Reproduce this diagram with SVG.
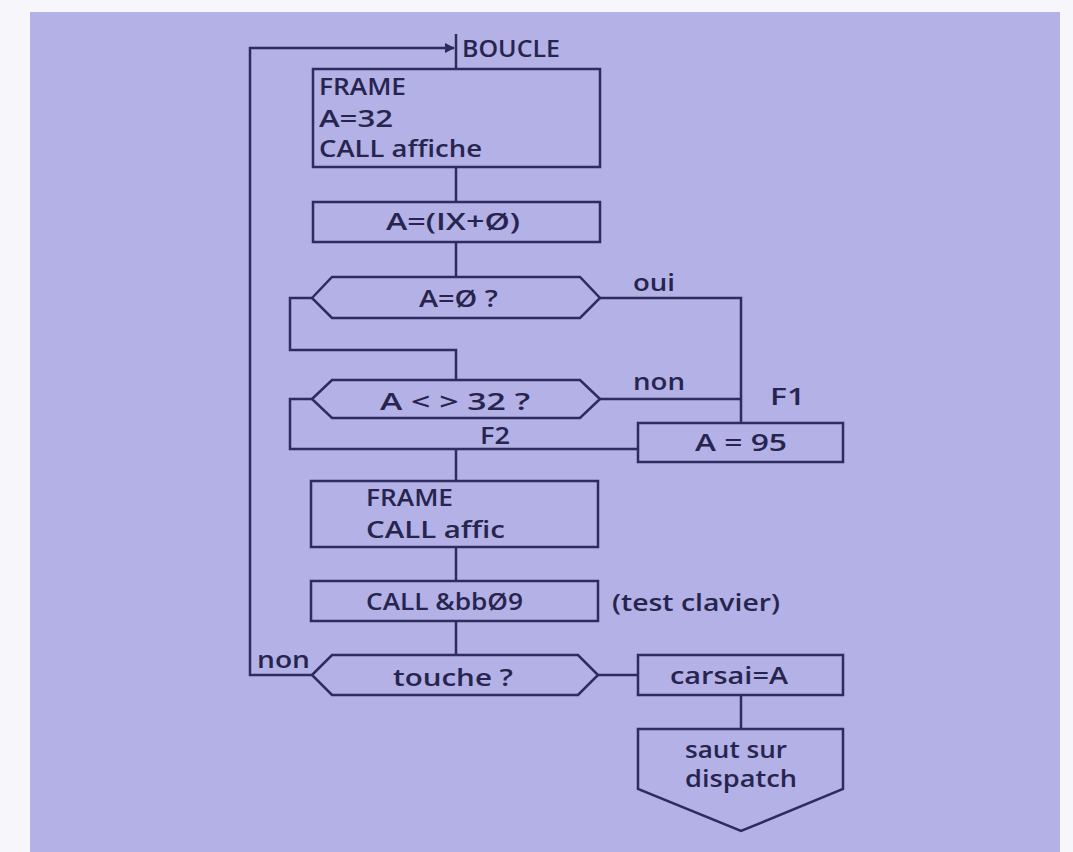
<svg xmlns="http://www.w3.org/2000/svg" width="1073" height="852" viewBox="0 0 1073 852">
<style>
.shape{fill:none;stroke:#2e2c5e;stroke-width:2.5;stroke-linejoin:miter}
.conn{fill:none;stroke:#2e2c5e;stroke-width:2.5}
text{font-family:"Open Sans","Liberation Sans",sans-serif;font-size:23px;fill:#27254f;font-weight:600}
</style>
<defs>
<marker id="arr" viewBox="0 0 10 10" refX="9" refY="5" markerWidth="4" markerHeight="4" orient="auto" markerUnits="strokeWidth">
<path d="M0,0 L10,5 L0,10 z" fill="#2e2c5e"/>
</marker>
</defs>
<rect x="0" y="0" width="1073" height="852" fill="#f7f7fb"/>
<rect x="30" y="12" width="1030" height="840" fill="#b3b1e5"/>

<g id="connectors">
<path class="conn" d="M312,675 H250 V48 H454" marker-end="url(#arr)"/>
<path class="conn" d="M456,34 V69"/>
<path class="conn" d="M456,167 V202"/>
<path class="conn" d="M456,242 V277"/>
<path class="conn" d="M600,298 H741 V423"/>
<path class="conn" d="M312,298 H290 V350 H456 V380"/>
<path class="conn" d="M600,399 H741"/>
<path class="conn" d="M312,399 H290 V449 H638"/>
<path class="conn" d="M456,449 V481"/>
<path class="conn" d="M456,547 V581"/>
<path class="conn" d="M456,621 V655"/>
<path class="conn" d="M598,675 H638"/>
<path class="conn" d="M741,695 V729"/>
</g>

<g id="boucle">
<text x="462" y="57" textLength="98" lengthAdjust="spacingAndGlyphs">BOUCLE</text>
</g>

<g id="box1">
<rect class="shape" x="313" y="69" width="287" height="98"/>
<text x="319" y="95" textLength="87" lengthAdjust="spacingAndGlyphs">FRAME</text>
<text x="319" y="127" textLength="74" lengthAdjust="spacingAndGlyphs">A=32</text>
<text x="319" y="157" textLength="163" lengthAdjust="spacingAndGlyphs">CALL affiche</text>
</g>

<g id="box2">
<rect class="shape" x="313" y="202" width="287" height="40"/>
<text x="386" y="230" textLength="134" lengthAdjust="spacingAndGlyphs">A=(IX+Ø)</text>
</g>

<g id="test1">
<path class="shape" d="M312,298 L332,277 H580 L600,298 L580,318 H332 Z"/>
<text x="419" y="307" textLength="79" lengthAdjust="spacingAndGlyphs">A=Ø ?</text>
<text x="633" y="291" textLength="42" lengthAdjust="spacingAndGlyphs">oui</text>
</g>

<g id="test2">
<path class="shape" d="M312,399 L332,380 H580 L600,399 L580,418 H332 Z"/>
<text x="380" y="410" textLength="150" lengthAdjust="spacingAndGlyphs">A &lt; &gt; 32 ?</text>
<text x="633" y="390" textLength="52" lengthAdjust="spacingAndGlyphs">non</text>
<text x="770" y="405" textLength="35" lengthAdjust="spacingAndGlyphs">F1</text>
<text x="480" y="444" textLength="30" lengthAdjust="spacingAndGlyphs">F2</text>
</g>

<g id="box95">
<rect class="shape" x="638" y="423" width="205" height="39"/>
<text x="695" y="451" textLength="92" lengthAdjust="spacingAndGlyphs">A = 95</text>
</g>

<g id="box3">
<rect class="shape" x="311" y="481" width="287" height="66"/>
<text x="366" y="506" textLength="87" lengthAdjust="spacingAndGlyphs">FRAME</text>
<text x="366" y="538" textLength="139" lengthAdjust="spacingAndGlyphs">CALL  affic</text>
</g>

<g id="box4">
<rect class="shape" x="311" y="581" width="287" height="40"/>
<text x="366" y="610" textLength="157" lengthAdjust="spacingAndGlyphs">CALL &amp;bbØ9</text>
<text x="612" y="611" textLength="168" lengthAdjust="spacingAndGlyphs">(test clavier)</text>
</g>

<g id="test3">
<path class="shape" d="M312,675 L332,655 H578 L598,675 L578,695 H332 Z"/>
<text x="393" y="686" textLength="120" lengthAdjust="spacingAndGlyphs">touche ?</text>
<text x="257" y="668" textLength="53" lengthAdjust="spacingAndGlyphs">non</text>
</g>

<g id="carsai">
<rect class="shape" x="638" y="655" width="205" height="40"/>
<text x="670" y="684" textLength="118" lengthAdjust="spacingAndGlyphs">carsai=A</text>
</g>

<g id="dispatch">
<path class="shape" d="M638,729 H843 V789 L741,831 L638,789 Z"/>
<text x="685" y="758" textLength="102" lengthAdjust="spacingAndGlyphs">saut sur</text>
<text x="685" y="787" textLength="112" lengthAdjust="spacingAndGlyphs">dispatch</text>
</g>
</svg>
